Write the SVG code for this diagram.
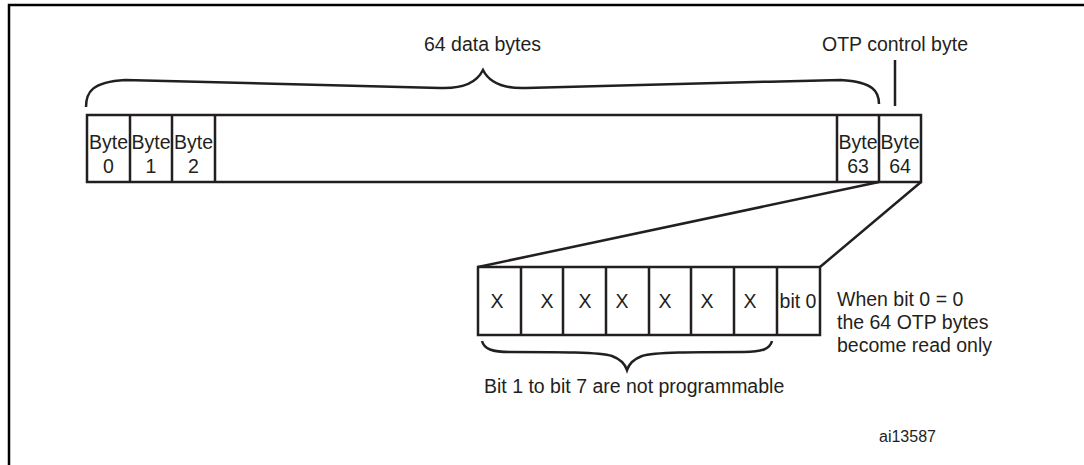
<svg xmlns="http://www.w3.org/2000/svg" width="1084" height="465" viewBox="0 0 1084 465">
<style>
.ln{fill:none;stroke:#231f20;stroke-width:2.5;stroke-linejoin:miter}
.fr{fill:none;stroke:#000;stroke-width:2.5}
.cell{fill:#fff;stroke:#231f20;stroke-width:2.5}
.t{font-family:"Liberation Sans",Arial,sans-serif;font-size:19.5px;fill:#231f20}
.c{text-anchor:middle}
.s{font-size:16px}
</style>
<rect width="1084" height="465" fill="#fff"/>
<path class="fr" d="M9,465 V5 H1084"/>
<g id="label-data">
<text class="t c" x="482.5" y="51">64 data bytes</text>
</g>
<g id="label-otp">
<text class="t c" x="895" y="51">OTP control byte</text>
</g>
<g id="byte-row">
<rect class="cell" x="87" y="115" width="834" height="67"/>
<path class="ln" d="M130,115V182M172,115V182M215,115V182M837,115V182M879,115V182"/>
<text class="t c" x="108.5" y="149">Byte</text><text class="t c" x="108.5" y="173">0</text>
<text class="t c" x="151" y="149">Byte</text><text class="t c" x="151" y="173">1</text>
<text class="t c" x="193.5" y="149">Byte</text><text class="t c" x="193.5" y="173">2</text>
<text class="t c" x="858" y="149">Byte</text><text class="t c" x="858" y="173">63</text>
<text class="t c" x="900" y="149">Byte</text><text class="t c" x="900" y="173">64</text>
</g>
<g id="bit-row">
<rect class="cell" x="478" y="267" width="342" height="68"/>
<path class="ln" d="M521,267V335M563,267V335M606,267V335M649,267V335M691,267V335M734,267V335M777,267V335"/>
<text class="t c" x="497" y="308">X</text>
<text class="t c" x="547" y="308">X</text>
<text class="t c" x="585" y="308">X</text>
<text class="t c" x="622" y="308">X</text>
<text class="t c" x="665" y="308">X</text>
<text class="t c" x="707" y="308">X</text>
<text class="t c" x="750" y="308">X</text>
<text class="t c" x="798" y="308">bit 0</text>
</g>
<g id="note">
<text class="t" x="837" y="306">When bit 0 = 0</text>
<text class="t" x="837" y="329">the 64 OTP bytes</text>
<text class="t" x="837" y="352">become read only</text>
</g>
<g id="label-bits">
<text class="t" x="484" y="393">Bit 1 to bit 7 are not programmable</text>
</g>
<g id="ref">
<text class="t s" x="879" y="442">ai13587</text>
</g>
<g id="connectors">
<path class="ln" d="M86,107 C86,92 92,82 125,80 C250,83 400,86 440,88 C466,89 478,80 483,70 C488,80 500,89 526,88 C566,86 716,83 841,80 C874,82 879,92 879,104"/>
<path class="ln" d="M895,60V106"/>
<path class="ln" d="M879,182L478,267M921,182L820,267"/>
<path class="ln" d="M482,341 C484,349 492,352 510,352 C560,352 600,352 612,356 C620,359 625,364 627,370 C629,364 634,359 642,356 C654,352 694,352 744,352 C762,352 770,349 772,341"/>
</g>
</svg>
